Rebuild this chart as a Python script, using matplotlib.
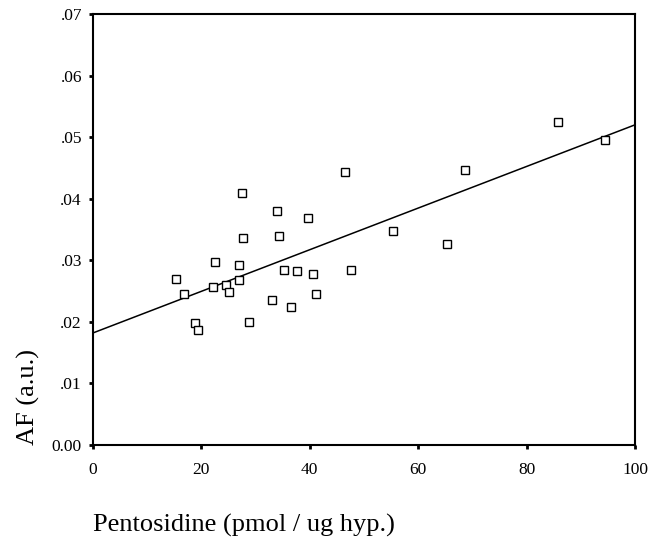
import matplotlib
matplotlib.use("Agg")
import matplotlib.pyplot as plt
import numpy as np

plt.rcParams['font.family'] = ['Liberation Serif', 'DejaVu Serif']

pentosidine = [46.5, 27.5, 33.9, 39.6, 27.7, 34.4, 22.6, 26.9, 15.4, 35.2,
               37.7, 40.6, 47.6, 26.9, 22.1, 24.5, 25.0, 16.7, 41.2, 33.1,
               36.6, 28.8, 18.9, 19.4, 85.8, 94.5, 68.6, 55.4, 65.4]
af = [0.0444, 0.0409, 0.0380, 0.0368, 0.0337, 0.0339, 0.0297, 0.0292, 0.0269, 0.0285,
      0.0283, 0.0278, 0.0285, 0.0268, 0.0257, 0.0260, 0.0249, 0.0246, 0.0245, 0.0235,
      0.0224, 0.0200, 0.0198, 0.0186, 0.0524, 0.0496, 0.0446, 0.0347, 0.0326]
fit_x = [0, 100]
fit_y = [0.0182, 0.0520]

x_ticks = [0, 20, 40, 60, 80, 100]
y_ticks = [0.00, 0.01, 0.02, 0.03, 0.04, 0.05, 0.06, 0.07]
y_tick_labels = ['0.00', '.01', '.02', '.03', '.04', '.05', '.06', '.07']

fig = plt.figure(figsize=(6.6, 5.37), dpi=100)
ax = fig.add_axes([93/660, (537-445)/537, (635-93)/660, (445-14)/537])

ax.plot(fit_x, fit_y, color='black', lw=1.1)
ax.plot(pentosidine, af, linestyle='none', marker='s', markersize=5.5,
        markerfacecolor='white', markeredgecolor='black', markeredgewidth=1.0)

ax.set_xlim(0, 100)
ax.set_ylim(0, 0.07)
ax.set_xticks(x_ticks)
ax.set_xticklabels([str(v) for v in x_ticks])
ax.set_yticks(y_ticks)
ax.set_yticklabels(y_tick_labels)
for s in ax.spines.values():
    s.set_linewidth(1.5)
    s.set_color('black')
ax.tick_params(direction='out', length=3, width=2, labelsize=12.5, pad=5)
ax.tick_params(axis='x', pad=9)

fig.text(17/660, 1 - 445/537, 'AF (a.u.)', rotation=90, fontsize=19,
         ha='left', va='bottom')
fig.text(93/660, 1 - 532/537, 'Pentosidine (pmol / ug hyp.)', fontsize=19,
         ha='left', va='baseline')

fig.savefig('out.png', dpi=100)
